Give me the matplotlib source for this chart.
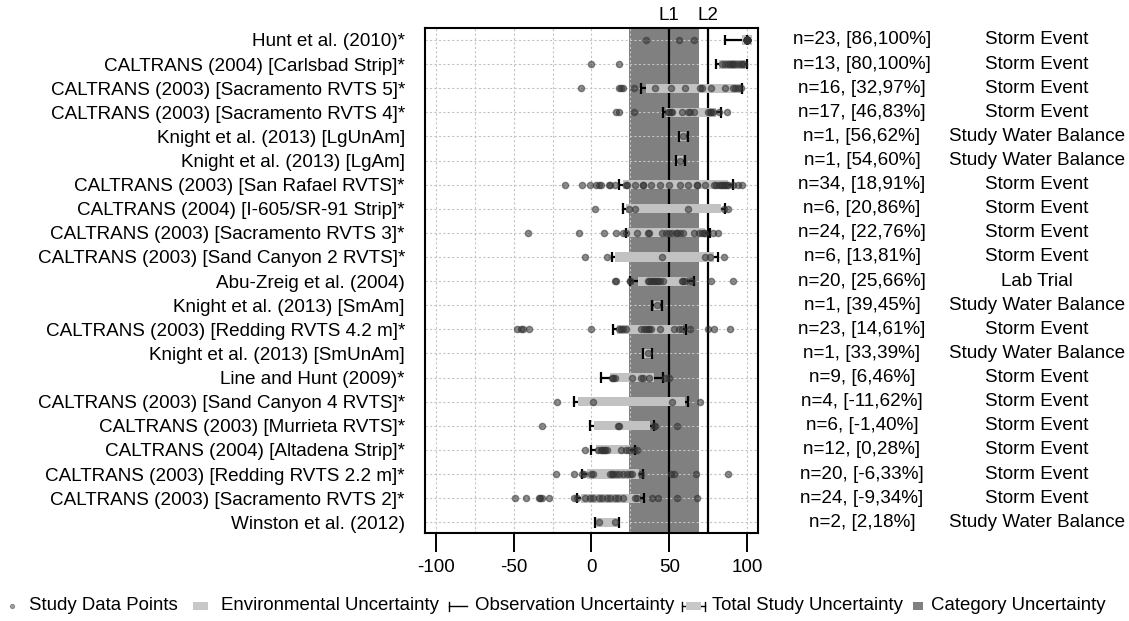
import numpy as np
import matplotlib
matplotlib.use("Agg")
import matplotlib.pyplot as plt
from matplotlib.transforms import blended_transform_factory
from matplotlib.patches import Rectangle

plt.rcParams['font.family'] = ['Liberation Sans', 'DejaVu Sans']
plt.rcParams['axes.unicode_minus'] = False

# studies, top to bottom
studies = [
    "Hunt et al. (2010)*",
    "CALTRANS (2004) [Carlsbad Strip]*",
    "CALTRANS (2003) [Sacramento RVTS 5]*",
    "CALTRANS (2003) [Sacramento RVTS 4]*",
    "Knight et al. (2013) [LgUnAm]",
    "Knight et al. (2013) [LgAm]",
    "CALTRANS (2003) [San Rafael RVTS]*",
    "CALTRANS (2004) [I-605/SR-91 Strip]*",
    "CALTRANS (2003) [Sacramento RVTS 3]*",
    "CALTRANS (2003) [Sand Canyon 2 RVTS]*",
    "Abu-Zreig et al. (2004)",
    "Knight et al. (2013) [SmAm]",
    "CALTRANS (2003) [Redding RVTS 4.2 m]*",
    "Knight et al. (2013) [SmUnAm]",
    "Line and Hunt (2009)*",
    "CALTRANS (2003) [Sand Canyon 4 RVTS]*",
    "CALTRANS (2003) [Murrieta RVTS]*",
    "CALTRANS (2004) [Altadena Strip]*",
    "CALTRANS (2003) [Redding RVTS 2.2 m]*",
    "CALTRANS (2003) [Sacramento RVTS 2]*",
    "Winston et al. (2012)",
]
n_obs = [23, 13, 16, 17, 1, 1, 34, 6, 24, 6, 20, 1, 23, 1, 9, 4, 6, 12, 20, 24, 2]
study_type = ["Storm Event", "Storm Event", "Storm Event", "Storm Event",
              "Study Water Balance", "Study Water Balance", "Storm Event",
              "Storm Event", "Storm Event", "Storm Event", "Lab Trial",
              "Study Water Balance", "Storm Event", "Study Water Balance",
              "Storm Event", "Storm Event", "Storm Event", "Storm Event",
              "Storm Event", "Storm Event", "Study Water Balance"]

# total study uncertainty (observation uncertainty whiskers)
total_lo = [86, 80, 32, 46, 56, 54, 18, 20, 22, 13, 25, 39, 14, 33, 6, -11, -1, 0, -6, -9, 2]
total_hi = [100, 100, 97, 83, 62, 60, 91, 86, 76, 81, 66, 45, 61, 39, 46, 62, 40, 28, 33, 34, 18]
# environmental uncertainty
env_lo = [97, 82, 35, 48, 57, 55, 20, 22, 23.5, 15, 30, 40, 16.5, 34, 12, -8.5, 1.5, 3, -3, -6.5, 3]
env_hi = [103, 98.5, 96, 80, 61, 59, 88, 83.5, 73, 79, 61.5, 44, 58.5, 38, 40, 60, 37.5, 24.5, 30.5, 31, 17]

# study data points
study_points = [
    [35, 56, 66, 100, 100, 100, 100, 100, 100, 100, 100, 100, 100, 100, 100,
     100, 100, 100, 100, 100, 100, 100, 100],
    [0, 18, 84, 86, 88, 89, 90, 91, 92, 94, 96, 97, 98],
    [-7, 18, 19, 20, 27, 41, 51, 60, 70, 71, 77, 86, 91, 92, 94, 96],
    [16, 18, 27, 49, 50, 51, 52, 58, 62, 63, 66, 75, 76, 77, 78, 82, 87],
    [59],
    [57],
    [-17, -6, -1, 3, 5, 6, 11, 12, 15, 22, 23, 28, 33, 33, 38, 44, 50, 57, 62,
     68, 68, 73, 79, 80, 82, 83, 84, 85, 86, 87, 88, 91, 94, 97],
    [2, 24, 28, 62, 85, 88],
    [-41, -8, 8, 16, 20, 22, 29, 36, 37, 45, 48, 50, 52, 54, 55, 57, 59, 66,
     69, 71, 72, 73, 78, 81],
    [-4, 10, 45, 73, 76, 85],
    [15, 16, 25, 25, 36, 37, 38, 39, 40, 41, 42, 43, 44, 46, 58, 59, 60, 64, 77, 91],
    [42],
    [-48, -45, -44, -40, 0, 18, 19, 20, 22, 32, 34, 35, 36, 37, 38, 44, 53, 56,
     58, 63, 75, 79, 89],
    [36],
    [13, 14, 15, 26, 32, 33, 37, 47, 50],
    [-22, 1, 52, 70],
    [-32, 17, 18, 40, 41, 55],
    [-4, 4, 6, 7, 8, 9, 10, 19, 22, 24, 27, 29],
    [-23, -11, -6, -5, 0, 1, 12, 13, 14, 16, 18, 20, 23, 25, 26, 32, 51, 53, 67, 88],
    [-49, -42, -34, -33, -32, -27, -11, -9, -4, -1, 1, 5, 7, 10, 12, 15, 17, 20,
     28, 29, 39, 43, 55, 68],
    [5, 15],
]

category_band = [24, 69]
ref_lines = {"L1": 50, "L2": 75}

FS = 13.6

fig = plt.figure(figsize=(11.29, 6.21), dpi=100)
ax = fig.add_axes([0.3764, 0.1412, 0.2950, 0.8142])

rows = np.arange(len(studies), 0, -1)

ax.axvspan(category_band[0], category_band[1], color='#808080', zorder=0.3, lw=0)
for name, xv in ref_lines.items():
    ax.axvline(xv, color='black', lw=1.6, zorder=1.8)
    ax.text(xv, 1.008, name, transform=blended_transform_factory(ax.transData, ax.transAxes),
            ha='center', va='bottom', fontsize=FS)

# observation whiskers, env bar, caps, points
ax.hlines(rows, total_lo, total_hi, color='black', lw=1.6, zorder=2)
ax.barh(rows, np.array(env_hi) - np.array(env_lo), left=env_lo, height=0.38,
        color='#c2c2c2', zorder=3)
ax.vlines(total_lo, rows - 0.22, rows + 0.22, color='black', lw=1.6, zorder=4)
ax.vlines(total_hi, rows - 0.22, rows + 0.22, color='black', lw=1.6, zorder=4)
for yv, pts in zip(rows, study_points):
    ax.scatter(pts, np.full(len(pts), yv), s=20, color='#333333', alpha=0.55,
               linewidths=1.0, zorder=5)

ax.set_xlim(-107, 107)
ax.set_ylim(0.54, 21.51)
ax.set_xticks([-100, -50, 0, 50, 100])
ax.set_xticks([-75, -25, 25, 75], minor=True)
ax.set_yticks(rows)
ax.set_yticklabels(studies, fontsize=FS)
ax.tick_params(axis='y', length=0, pad=14.4)
ax.tick_params(axis='x', which='major', length=13.8, width=1.4, labelsize=FS, pad=5)
ax.tick_params(axis='x', which='minor', length=0)
ax.set_axisbelow(True)
ax.grid(which='both', axis='both', color='#c4c4c4', linestyle=(0, (2, 2)), lw=0.8)
for sp in ax.spines.values():
    sp.set_linewidth(1.5)

tr = blended_transform_factory(fig.transFigure, ax.transData)
for yv, n, lo, hi, typ in zip(rows, n_obs, total_lo, total_hi, study_type):
    ax.text(862 / 1129, yv, f"n={n}, [{lo},{hi}%]", transform=tr, ha='center',
            va='center', fontsize=FS)
    ax.text(1037 / 1129, yv, typ, transform=tr, ha='center', va='center', fontsize=FS)

# legend row (pixel coordinates)
LFS = 13.4
lg = fig.add_axes([0, 0, 1, 0.06])
lg.set_xlim(0, 1129)
lg.set_ylim(0, 0.06 * 621)
lg.axis('off')
yc = 15
lg.scatter([12], [yc], s=9, color='#333333', alpha=0.45, linewidths=0.8)
lg.text(29, yc, "Study Data Points", va='center', fontsize=LFS)
lg.add_patch(Rectangle((193, yc - 4), 15, 8, color='#c8c8c8', lw=0))
lg.text(221, yc, "Environmental Uncertainty", va='center', fontsize=LFS)
lg.plot([449, 467], [yc, yc], color='black', lw=1.0)
lg.plot([449, 449], [yc - 4.5, yc + 4.5], color='black', lw=1.0)
lg.text(475, yc, "Observation Uncertainty", va='center', fontsize=LFS)
lg.plot([682, 705], [yc, yc], color='black', lw=1.0)
lg.plot([682, 682], [yc - 4.5, yc + 4.5], color='black', lw=1.0)
lg.plot([705, 705], [yc - 4.5, yc + 4.5], color='black', lw=1.0)
lg.add_patch(Rectangle((686, yc - 4), 15, 8, color='#c8c8c8', lw=0, zorder=3))
lg.text(712, yc, "Total Study Uncertainty", va='center', fontsize=LFS)
lg.add_patch(Rectangle((913, yc - 4), 10, 8, color='#808080', lw=0))
lg.text(931, yc, "Category Uncertainty", va='center', fontsize=LFS)

fig.savefig("out.png", dpi=100)
